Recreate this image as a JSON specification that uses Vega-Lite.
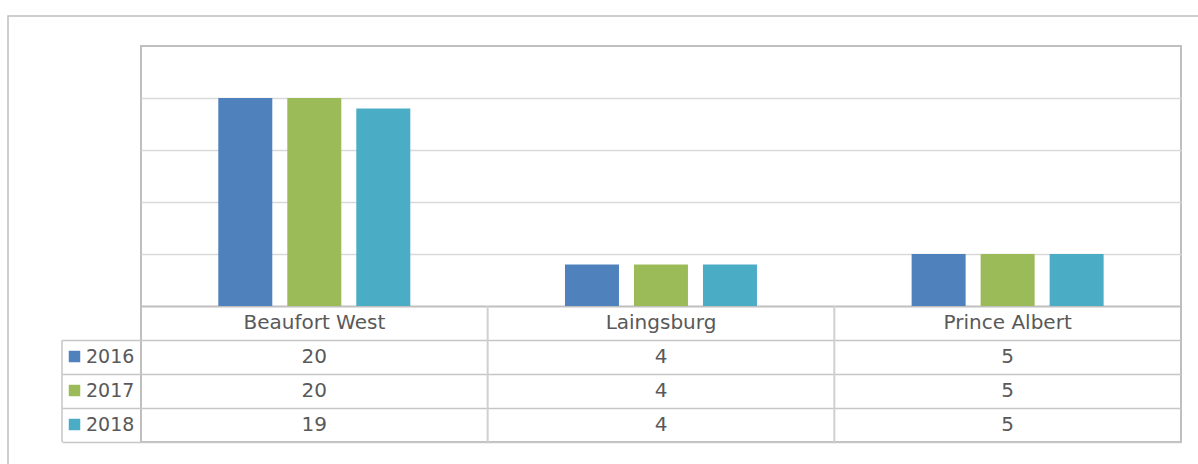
{
  "$schema": "https://vega.github.io/schema/vega-lite/v6.json",
  "width": 1040,
  "height": 396,
  "padding": {"left": 141, "top": 46, "right": 17, "bottom": 22},
  "autosize": {"type": "none"},
  "background": "white",
  "config": {"view": {"stroke": "#bfbfbf", "strokeWidth": 2}},
  "data": {
    "values": [
      {"category": "Beaufort West", "year": "2016", "value": 20},
      {"category": "Beaufort West", "year": "2017", "value": 20},
      {"category": "Beaufort West", "year": "2018", "value": 19},
      {"category": "Laingsburg", "year": "2016", "value": 4},
      {"category": "Laingsburg", "year": "2017", "value": 4},
      {"category": "Laingsburg", "year": "2018", "value": 4},
      {"category": "Prince Albert", "year": "2016", "value": 5},
      {"category": "Prince Albert", "year": "2017", "value": 5},
      {"category": "Prince Albert", "year": "2018", "value": 5}
    ]
  },
  "resolve": {
    "scale": {"x": "independent", "y": "independent", "color": "independent"},
    "axis": {"x": "independent", "y": "independent"}
  },
  "layer": [
    {
      "transform": [{"filter": "datum.category === 'Beaufort West' && datum.year === '2016'"}],
      "mark": {"type": "rect", "fill": "transparent", "stroke": "#bfbfbf", "strokeWidth": 1.5},
      "encoding": {
        "x": {"datum": 0, "type": "quantitative", "scale": {"domain": [0, 1], "range": [-133, 1070]}, "axis": null},
        "x2": {"datum": 1},
        "y": {"datum": 0, "type": "quantitative", "scale": {"domain": [0, 1], "range": [-30, 440]}, "axis": null},
        "y2": {"datum": 1}
      }
    },
    {
      "mark": {"type": "bar"},
      "encoding": {
        "x": {"field": "category", "type": "nominal", "sort": null,
              "scale": {"type": "band", "domain": ["Beaufort West", "Laingsburg", "Prince Albert"], "range": [0, 1040], "paddingInner": 0, "paddingOuter": 0},
              "axis": null},
        "xOffset": {"field": "year", "type": "nominal",
              "scale": {"domain": ["2016", "2017", "2018"], "range": [77.3, 269.3], "paddingInner": 0.2174, "paddingOuter": 0}},
        "y": {"field": "value", "type": "quantitative",
              "scale": {"domain": [0, 25], "range": [260, 0], "nice": false, "zero": true},
              "axis": {"orient": "left", "grid": true, "values": [0, 5, 10, 15, 20],
                       "gridColor": {"condition": {"test": "datum.value === 0", "value": "#bfbfbf"}, "value": "#d9d9d9"},
                       "gridWidth": {"condition": {"test": "datum.value === 0", "value": 2}, "value": 1.5},
                       "ticks": false, "labels": false, "domain": false, "title": null}},
        "color": {"field": "year", "type": "nominal",
                  "scale": {"domain": ["2016", "2017", "2018"], "range": ["#4F81BD", "#9BBB59", "#4BACC6"]},
                  "legend": {"orient": "none", "legendX": -76, "legendY": 301, "title": null,
                             "symbolType": "square", "symbolSize": 132, "symbolStrokeWidth": 0, "symbolOpacity": 1,
                             "labelFontSize": 19, "labelFont": "DejaVu Sans", "labelColor": "#595959",
                             "rowPadding": 14, "labelOffset": 2, "padding": 0}}
      }
    },
    {
      "mark": {"type": "text", "font": "DejaVu Sans", "fontSize": 20, "color": "#595959", "baseline": "middle", "align": "center"},
      "encoding": {
        "x": {"field": "category", "type": "nominal",
              "scale": {"type": "band", "domain": ["Beaufort West", "Laingsburg", "Prince Albert"], "range": [0, 1040], "paddingInner": 0, "paddingOuter": 0},
              "axis": null},
        "y": {"field": "year", "type": "nominal",
              "scale": {"type": "band", "domain": ["2016", "2017", "2018"], "range": [294, 396], "paddingInner": 0, "paddingOuter": 0},
              "axis": {"orient": "left", "grid": true, "gridColor": "#c6c6c6", "gridWidth": 1.5,
                       "tickBand": "extent", "ticks": true, "tickSize": 79, "tickColor": "#c6c6c6", "tickWidth": 1.5,
                       "labels": false, "domain": false, "title": null}},
        "text": {"field": "value", "type": "quantitative"}
      }
    },
    {
      "transform": [{"filter": "datum.year === '2016'"}],
      "mark": {"type": "text", "font": "DejaVu Sans", "fontSize": 20, "color": "#595959", "baseline": "middle", "align": "center"},
      "encoding": {
        "x": {"field": "category", "type": "nominal",
              "scale": {"type": "band", "domain": ["Beaufort West", "Laingsburg", "Prince Albert"], "range": [0, 1040], "paddingInner": 0, "paddingOuter": 0},
              "axis": null},
        "y": {"datum": 0.5, "type": "quantitative", "scale": {"domain": [0, 1], "range": [260, 294]}, "axis": null},
        "text": {"field": "category", "type": "nominal"}
      }
    },
    {
      "transform": [{"filter": "datum.year === '2016' && datum.category !== 'Beaufort West'"}],
      "mark": {"type": "rule", "color": "#d0d0d0", "strokeWidth": 2},
      "encoding": {
        "x": {"field": "category", "type": "nominal", "bandPosition": 0,
              "scale": {"type": "band", "domain": ["Beaufort West", "Laingsburg", "Prince Albert"], "range": [0, 1040], "paddingInner": 0, "paddingOuter": 0},
              "axis": null},
        "y": {"datum": 0, "type": "quantitative", "scale": {"domain": [0, 1], "range": [260, 396]}, "axis": null},
        "y2": {"datum": 1}
      }
    },
    {
      "transform": [{"filter": "datum.year === '2016' && datum.category === 'Beaufort West'"}],
      "mark": {"type": "rule", "color": "#c6c6c6", "strokeWidth": 1.5},
      "encoding": {
        "x": {"datum": 0, "type": "quantitative", "scale": {"domain": [0, 1], "range": [-79, 0]}, "axis": null},
        "y": {"datum": 0, "type": "quantitative", "scale": {"domain": [0, 1], "range": [294, 396]}, "axis": null},
        "y2": {"datum": 1}
      }
    }
  ]
}
